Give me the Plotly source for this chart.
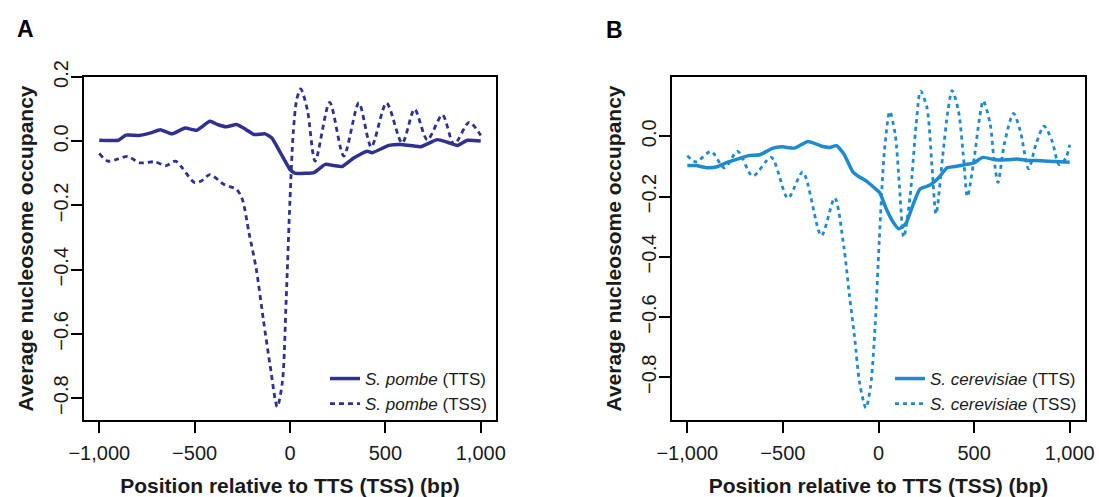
import plotly.graph_objects as go

# ---------------- data ----------------
A_TTS_x = [-1000, -900, -860, -790, -730, -680, -620, -550, -490, -420, -380, -335, -280, -230, -190, -130, -95, -50, 0, 25,
           80, 125, 185, 230, 272, 334, 404, 430, 518, 580, 685, 772, 825, 878, 930, 1000]
A_TTS_y = [0.003, 0.003, 0.019, 0.018, 0.026, 0.036, 0.023, 0.041, 0.034, 0.062, 0.052, 0.045, 0.052, 0.036, 0.021, 0.023, 0.010, -0.036, -0.088, -0.099,
           -0.100, -0.098, -0.072, -0.076, -0.079, -0.052, -0.031, -0.036, -0.013, -0.010, -0.017, 0.005, -0.003, -0.013, 0.003, 0.001]

A_TSS_x = [-1000, -955, -900, -850, -790, -710, -650, -600, -565, -500, -465, -420, -345, -280, -250, -215, -177, -140, -104, -67,
           -40, -20, 0, 17, 35, 56, 91, 132, 208, 282, 361, 426, 506, 588, 653, 720, 799, 860, 939, 1000]
A_TSS_y = [-0.038, -0.062, -0.055, -0.047, -0.067, -0.064, -0.076, -0.062, -0.083, -0.129, -0.124, -0.104, -0.135, -0.150, -0.181, -0.285, -0.398, -0.554, -0.699, -0.827,
           -0.750, -0.492, -0.181, 0.026, 0.129, 0.163, 0.098, -0.062, 0.121, -0.046, 0.119, -0.018, 0.119, -0.006, 0.100, 0.004, 0.082, -0.010, 0.059, 0.018]

B_TTS_x = [-1000, -955, -900, -844, -789, -734, -680, -620, -555, -503, -439, -369, -300, -254, -220, -181, -133, -100, -63, -24,
           7, 41, 77, 105, 142, 179, 217, 269, 317, 357, 400, 444, 500, 545, 612, 672, 723, 778, 852, 925, 1000]
B_TTS_y = [-0.097, -0.097, -0.104, -0.101, -0.086, -0.075, -0.064, -0.061, -0.040, -0.035, -0.039, -0.017, -0.032, -0.037, -0.031, -0.059, -0.119, -0.135, -0.149, -0.170,
           -0.188, -0.241, -0.285, -0.307, -0.291, -0.230, -0.175, -0.162, -0.136, -0.105, -0.100, -0.095, -0.088, -0.070, -0.078, -0.078, -0.075, -0.080, -0.081, -0.084, -0.086]

B_TSS_x = [-1000, -955, -876, -806, -737, -658, -561, -474, -396, -299, -229, -181, -153, -125, -98, -66, -42, -18, 4, 31,
           59, 87, 110, 132, 165, 197, 220, 253, 280, 301, 335, 363, 385, 418, 446, 465, 501, 529, 548, 584,
           603, 625, 658, 706, 741, 785, 824, 866, 907, 945, 981, 1000]
B_TSS_y = [-0.064, -0.085, -0.050, -0.105, -0.050, -0.132, -0.070, -0.205, -0.119, -0.330, -0.205, -0.368, -0.523, -0.667, -0.822, -0.902, -0.833, -0.634, -0.346, -0.048,
           0.082, 0.008, -0.170, -0.335, -0.200, 0.041, 0.150, 0.096, -0.103, -0.258, -0.070, 0.085, 0.152, 0.085, -0.081, -0.200, -0.070, 0.063, 0.118, 0.041,
           -0.070, -0.153, -0.025, 0.076, 0.019, -0.108, -0.025, 0.034, -0.014, -0.094, -0.070, -0.028]

x_tickvals = [-1000, -500, 0, 500, 1000]
x_ticktext = ["\u22121,000", "\u2212500", "0", "500", "1,000"]
A_y_tickvals = [-0.8, -0.6, -0.4, -0.2, 0.0, 0.2]
A_y_ticktext = ["\u22120.8", "\u22120.6", "\u22120.4", "\u22120.2", "0.0", "0.2"]
B_y_tickvals = [-0.8, -0.6, -0.4, -0.2, 0.0]
B_y_ticktext = ["\u22120.8", "\u22120.6", "\u22120.4", "\u22120.2", "0.0"]

COL_A = "#2E3192"
COL_B = "#1E8BD0"
FONT = "Liberation Sans, Arial, sans-serif"
TXT = "#1a1a1a"

fig = go.Figure()
fig.add_trace(go.Scatter(x=A_TTS_x, y=A_TTS_y, mode="lines", name="<i>S. pombe</i> (TTS)",
                         line=dict(color=COL_A, width=3.5, shape="spline", smoothing=0.4), xaxis="x", yaxis="y", legend="legend"))
fig.add_trace(go.Scatter(x=A_TSS_x, y=A_TSS_y, mode="lines", name="<i>S. pombe</i> (TSS)",
                         line=dict(color=COL_A, width=2.8, dash="5px,4px", shape="spline", smoothing=0.8),
                         xaxis="x", yaxis="y", legend="legend"))
fig.add_trace(go.Scatter(x=B_TTS_x, y=B_TTS_y, mode="lines", name="<i>S. cerevisiae</i> (TTS)",
                         line=dict(color=COL_B, width=3.5, shape="spline", smoothing=0.5), xaxis="x2", yaxis="y2", legend="legend2"))
fig.add_trace(go.Scatter(x=B_TSS_x, y=B_TSS_y, mode="lines", name="<i>S. cerevisiae</i> (TSS)",
                         line=dict(color=COL_B, width=2.8, dash="4px,4px", shape="spline", smoothing=0.8),
                         xaxis="x2", yaxis="y2", legend="legend2"))

axis_common = dict(showline=True, linecolor="black", linewidth=2, mirror=True, ticks="outside",
                   ticklen=11, tickwidth=2, tickcolor="black", showgrid=False, zeroline=False, automargin=False,
                   tickfont=dict(family=FONT, size=20, color=TXT))
xtitle = dict(text="<b>Position relative to TTS (TSS) (bp)</b>", font=dict(family=FONT, size=21, color=TXT))
ytitle = dict(text="<b>Average nucleosome occupancy</b>", font=dict(family=FONT, size=21, color=TXT), standoff=11)

ydom = [1 - 420 / 497, 1 - 77 / 497]
fig.update_layout(
    width=1099, height=497, paper_bgcolor="white", plot_bgcolor="white",
    margin=dict(l=0, r=0, t=0, b=0, autoexpand=False),
    font=dict(family=FONT),
    xaxis=dict(domain=[84 / 1099, 496 / 1099], range=[-1080, 1080], tickvals=x_tickvals, ticktext=x_ticktext,
               ticklabelstandoff=3, title=xtitle, anchor="y", **axis_common),
    yaxis=dict(domain=ydom, range=[-0.868, 0.2], tickvals=A_y_tickvals, ticktext=A_y_ticktext, tickangle=-90,
               ticklabelstandoff=-5, title=ytitle, anchor="x", **axis_common),
    xaxis2=dict(domain=[672 / 1099, 1085 / 1099], range=[-1080, 1080], tickvals=x_tickvals, ticktext=x_ticktext,
                ticklabelstandoff=3, title=xtitle, anchor="y2", **axis_common),
    yaxis2=dict(domain=ydom, range=[-0.942, 0.197], tickvals=B_y_tickvals, ticktext=B_y_ticktext, tickangle=-90,
                ticklabelstandoff=-5, title=ytitle, anchor="x2", **axis_common),
    legend=dict(x=492 / 1099, y=1 - 422 / 497, xanchor="right", yanchor="bottom", bgcolor="rgba(0,0,0,0)",
                font=dict(family=FONT, size=17, color=TXT), tracegroupgap=0, itemwidth=30),
    legend2=dict(x=1082 / 1099, y=1 - 422 / 497, xanchor="right", yanchor="bottom", bgcolor="rgba(0,0,0,0)",
                 font=dict(family=FONT, size=17, color=TXT), tracegroupgap=0, itemwidth=30),
    annotations=[
        dict(text="<b>A</b>", x=15 / 1099, y=1 - 29 / 497, xref="paper", yref="paper", xanchor="left", yanchor="middle",
             showarrow=False, font=dict(family=FONT, size=23, color="black")),
        dict(text="<b>B</b>", x=604 / 1099, y=1 - 30 / 497, xref="paper", yref="paper", xanchor="left", yanchor="middle",
             showarrow=False, font=dict(family=FONT, size=23, color="black")),
    ],
)

fig.write_html("out.html", config={"displayModeBar": False},
               post_script="document.body.style.margin='0';")
